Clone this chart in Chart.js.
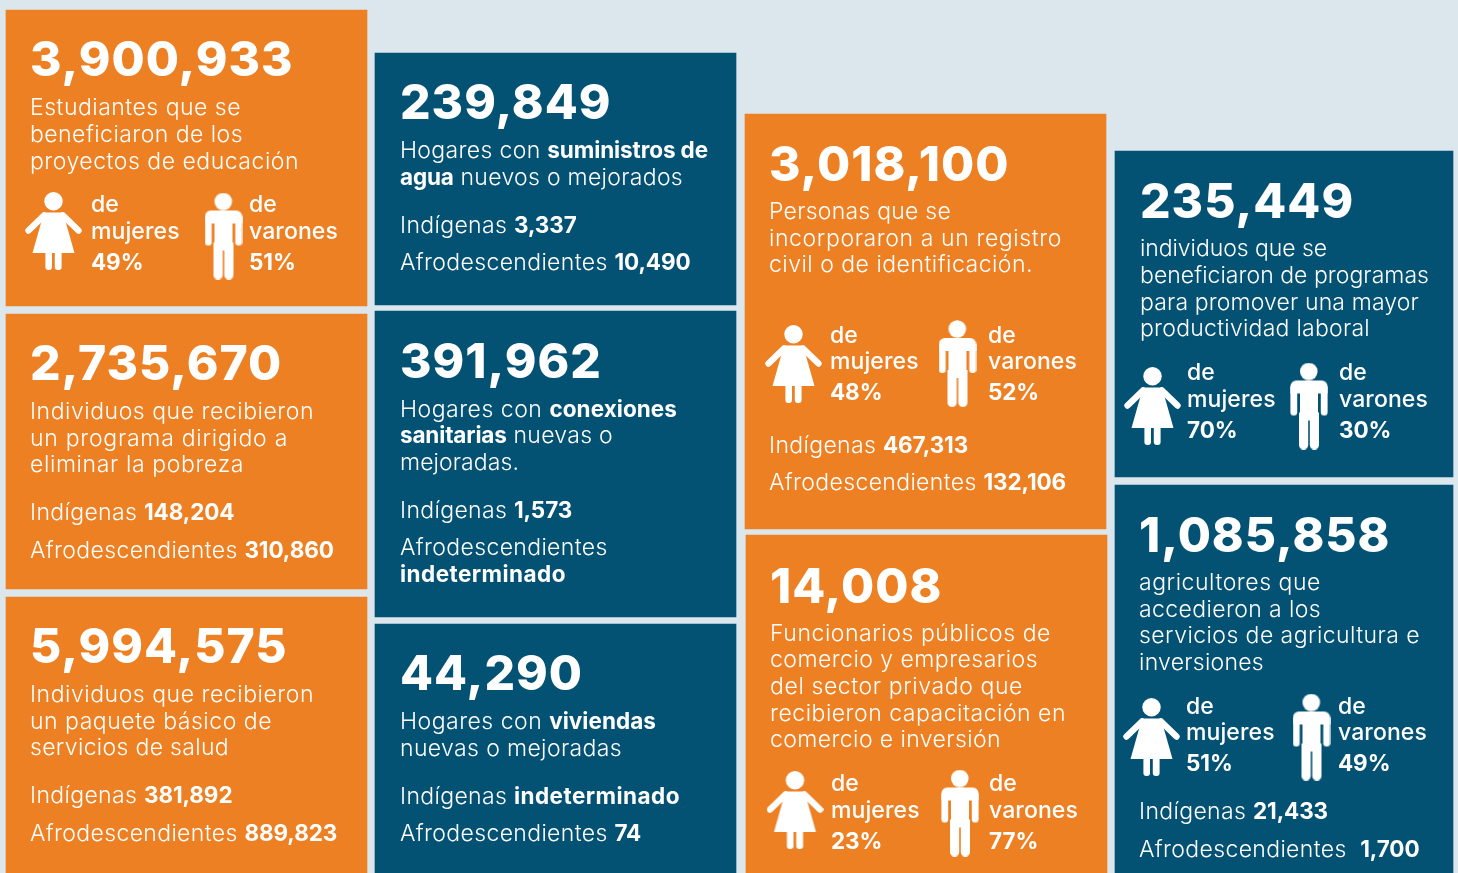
<!DOCTYPE html>
<html lang="es">
<head>
<meta charset="utf-8">
<title>Resultados</title>
<script src="https://cdn.jsdelivr.net/npm/chart.js@4"></script>
<style>
  html, body { margin: 0; padding: 0; background: #dce6ed; overflow: hidden; }
  canvas { display: block; }
</style>
</head>
<body>
<canvas id="chart" width="1458" height="873"></canvas>
<script>
// Values
const headlineValues = [3900933, 2735670, 5994575, 239849, 391962, 44290, 3018100, 14008, 235449, 1085858];
const descriptions = [
    ['Estudiantes que se', 'beneficiaron de los', 'proyectos de educación'],
    ['Individuos que recibieron', 'un programa dirigido a', 'eliminar la pobreza'],
    ['Individuos que recibieron', 'un paquete básico de', 'servicios de salud'],
    ['Hogares con **suministros de', '**agua** nuevos o mejorados'],
    ['Hogares con **conexiones', '**sanitarias** nuevas o', 'mejoradas.'],
    ['Hogares con **viviendas', 'nuevas o mejoradas'],
    ['Personas que se', 'incorporaron a un registro', 'civil o de identificación.'],
    ['Funcionarios públicos de', 'comercio y empresarios', 'del sector privado que', 'recibieron capacitación en', 'comercio e inversión'],
    ['individuos que se', 'beneficiaron de programas', 'para promover una mayor', 'productividad laboral'],
    ['agricultores que', 'accedieron a los', 'servicios de agricultura e', 'inversiones']
];
const womenShare = [49, null, null, null, null, null, 48, 23, 70, 51];
const menShare = [51, null, null, null, null, null, 52, 77, 30, 49];
const indigenous = [null, 148204, 381892, 3337, 1573, 'indeterminado', 467313, null, null, 21433];
const afroDescendants = [null, 310860, 889823, 10490, 'indeterminado', 74, 132106, null, null, 1700];

// Layout of the tiles, in page pixels
const tileBoxes = [
    [6, 367, 10, 306], [6, 367, 314, 589], [6, 367, 597, 873],
    [375, 736, 53, 305], [375, 736, 311, 617], [375, 736, 624, 873],
    [745, 1106, 114, 529], [746, 1107, 535, 873],
    [1115, 1453, 151, 477], [1115, 1453, 485, 873]
];
const tileColors = ['#ee8024', '#ee8024', '#ee8024', '#035274', '#035274', '#035274', '#ee8024', '#ee8024', '#035274', '#035274'];
const textLeft = [30, 30, 30, 400, 400, 400, 769, 770, 1140, 1139];
const headBase = [76, 380, 663, 119, 378, 690, 181, 603, 218, 552];
const bodyBase = [
    [115, 142, 169], [419, 446, 472], [702, 729, 755], [158, 185], [417, 443, 470],
    [729, 756], [219, 246, 272], [641, 667, 694, 721, 747], [256, 283, 310, 336], [590, 617, 643, 670]
];
// Right end of each description line, the fallback font runs a little different
const bodyEnd = [
    [241, 243, 299], [314, 288, 244], [314, 272, 229], [708, 683], [677, 613, 519],
    [656, 622], [951, 1062, 1033], [1051, 1038, 1023, 1066, 1001], [1327, 1429, 1419, 1370], [1321, 1321, 1420, 1264]
];
const groupBase = [null, [520, 558], [803, 841], [233, 270], [518, 555, 582], [804, 841], [453, 490], null, null, [819, 857]];
const iconCenters = [
    [53.5, 231, 223.5, 236], null, null, null, null, null,
    [793.5, 364, 957.5, 363.5], [795, 810, 960, 813], [1152.5, 406, 1309, 406], [1151.5, 737, 1311.5, 737]
];
const iconText = [
    [91, 249, 212, 239, 270], null, null, null, null, null,
    [830, 988, 343, 369, 400], [831, 989, 791, 818, 849], [1187, 1339, 380, 407, 438], [1186, 1338, 714, 740, 771]
];

const FONT = 'Inter, "Open Sans", sans-serif';
const fmt = n => typeof n === 'number' ? n.toLocaleString('en-US') : n;

function makeIcon(w, h, draw) {
    const c = document.createElement('canvas');
    c.width = w;
    c.height = h;
    const g = c.getContext('2d');
    g.fillStyle = g.strokeStyle = '#fff';
    draw(g);
    return c;
}

const womanIcon = makeIcon(57, 78, g => {
    g.beginPath(); g.arc(28.5, 9.3, 9.2, 0, Math.PI * 2); g.fill();
    g.beginPath();
    g.moveTo(19, 20.5); g.lineTo(38, 20.5); g.lineTo(49.5, 61); g.lineTo(7.5, 61);
    g.closePath(); g.fill();
    g.lineWidth = 6.4; g.lineCap = 'round';
    g.beginPath(); g.moveTo(19, 23.5); g.lineTo(3.5, 38.5); g.stroke();
    g.beginPath(); g.moveTo(38, 23.5); g.lineTo(53.5, 38.5); g.stroke();
    g.beginPath(); g.roundRect(20.4, 58, 6.6, 20, 3); g.fill();
    g.beginPath(); g.roundRect(29.8, 58, 6.8, 20, 3); g.fill();
});

const manIcon = makeIcon(38, 87, g => {
    g.beginPath(); g.arc(18.8, 9, 8.8, 0, Math.PI * 2); g.fill();
    g.beginPath(); g.roundRect(0.4, 18, 37.2, 13, [6, 6, 0, 0]); g.fill();
    g.beginPath(); g.roundRect(0.4, 24, 6.8, 29, [0, 0, 3.2, 3.2]); g.fill();
    g.beginPath(); g.roundRect(30.8, 24, 6.8, 29, [0, 0, 3.2, 3.2]); g.fill();
    g.fillRect(10, 24, 18, 34);
    g.beginPath(); g.roundRect(9, 50, 9.2, 37, [0, 0, 4.6, 4.6]); g.fill();
    g.beginPath(); g.roundRect(19.8, 50, 9.2, 37, [0, 0, 4.6, 4.6]); g.fill();
});

// Mixed weight line, **...** toggles bold. endX stretches it to that right edge
function drawLine(ctx, text, x, y, size, regular, endX) {
    const parts = text.split('**');
    const setFont = (part, bold, extra) => {
        ctx.font = bold ? '700 22.5px ' + FONT : regular + ' ' + size + 'px ' + FONT;
        const base = bold ? (part === 'indeterminado' ? 0.45 : -0.1) : (regular === 500 ? 0.1 : 0.35);
        ctx.letterSpacing = (base + extra) + 'px';
    };
    let extra = 0;
    if (endX) {
        let w = 0;
        parts.forEach((part, k) => {
            setFont(part, k % 2 === 1, 0);
            w += ctx.measureText(part).width;
        });
        extra = (endX - x - w) / parts.join('').length;
    }
    parts.forEach((part, k) => {
        setFont(part, k % 2 === 1, extra);
        ctx.fillText(part, x, y);
        x += ctx.measureText(part).width;
    });
}

const tileText = {
    id: 'tileText',
    afterDatasetsDraw(chart) {
        const ctx = chart.ctx;
        ctx.save();
        ctx.fillStyle = '#fff';
        ctx.textBaseline = 'alphabetic';
        headlineValues.forEach((value, i) => {
            const x = textLeft[i];
            ctx.font = '800 48px ' + FONT;
            ctx.letterSpacing = '1px';
            ctx.fillText(fmt(value), x, headBase[i]);
            descriptions[i].forEach((line, k) => drawLine(ctx, line, x, bodyBase[i][k], 23, 300, bodyEnd[i][k]));
            if (groupBase[i]) {
                drawLine(ctx, 'Indígenas **' + fmt(indigenous[i]), x, groupBase[i][0], 23, 300);
                if (typeof afroDescendants[i] === 'string') {
                    drawLine(ctx, 'Afrodescendientes', x, groupBase[i][1], 23, 300);
                    drawLine(ctx, '**' + afroDescendants[i], x, groupBase[i][2], 23, 300);
                } else {
                    const gap = i === 9 ? '  **' : ' **';
                    drawLine(ctx, 'Afrodescendientes' + gap + fmt(afroDescendants[i]), x, groupBase[i][1], 23, 300);
                }
            }
            if (iconText[i]) {
                const [xw, xm, y1, y2, y3] = iconText[i];
                drawLine(ctx, 'de', xw, y1, 23, 500);
                drawLine(ctx, 'mujeres', xw, y2, 23, 500);
                drawLine(ctx, '**' + womenShare[i] + '%', xw, y3, 23, 500);
                drawLine(ctx, 'de', xm, y1, 23, 500);
                drawLine(ctx, 'varones', xm, y2, 23, 500);
                drawLine(ctx, '**' + menShare[i] + '%', xm, y3, 23, 500);
            }
        });
        ctx.restore();
    }
};

const tileDatasets = tileBoxes.map((box, i) => ({
    type: 'bar',
    label: fmt(headlineValues[i]),
    data: [{ x: (box[0] + box[1]) / 2, y: [box[2], box[3]] }],
    backgroundColor: tileColors[i],
    barThickness: box[1] - box[0],
    grouped: false,
    order: 2
}));

const iconPoints = [];
const iconStyles = [];
iconCenters.forEach(c => {
    if (!c) return;
    iconPoints.push({ x: c[0], y: c[1] }, { x: c[2], y: c[3] });
    iconStyles.push(womanIcon, manIcon);
});

new Chart(document.getElementById('chart'), {
    data: {
        datasets: [...tileDatasets, {
            type: 'scatter',
            label: 'iconos',
            data: iconPoints,
            pointStyle: iconStyles,
            order: 1
        }]
    },
    options: {
        responsive: false,
        animation: false,
        events: [],
        layout: { padding: 0, autoPadding: false },
        plugins: { legend: { display: false }, tooltip: { enabled: false } },
        scales: {
            x: { type: 'linear', min: 0, max: 1458, offset: false, display: false },
            y: { type: 'linear', min: 0, max: 873, reverse: true, display: false }
        }
    },
    plugins: [tileText]
});
</script>
</body>
</html>
